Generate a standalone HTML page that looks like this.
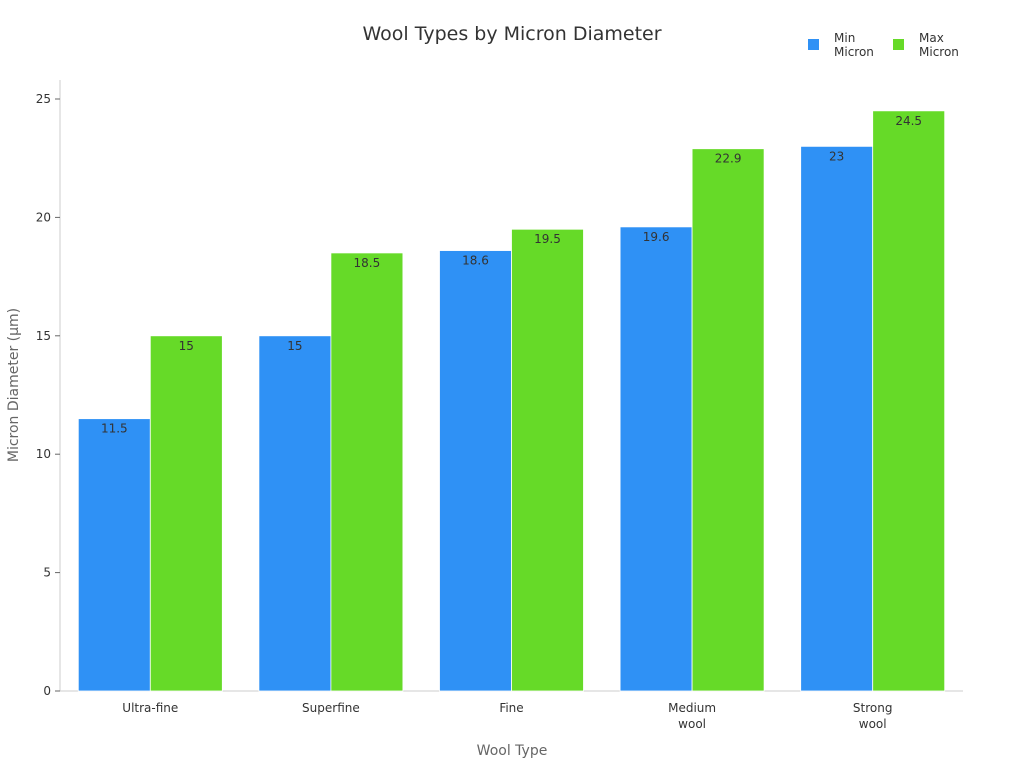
<!DOCTYPE html>
<html><head><meta charset="utf-8"><style>
body{margin:0;background:#fff;font-family:"Liberation Sans","DejaVu Sans",sans-serif;}
</style></head><body>
<svg id="c" width="1024" height="768" xmlns="http://www.w3.org/2000/svg" style="font-family:'DejaVu Sans','Liberation Sans',sans-serif">
<text x="512" y="40" text-anchor="middle" font-size="19" fill="#333">Wool Types by Micron Diameter</text>
<g>
<rect x="808" y="39" width="11" height="11" fill="#2f91f5"/>
<text x="834" y="42" font-size="12" fill="#333"><tspan x="834">Min</tspan><tspan x="834" dy="14">Micron</tspan></text>
<rect x="893" y="39" width="11" height="11" fill="#66da28"/>
<text x="919" y="42" font-size="12" fill="#333"><tspan x="919">Max</tspan><tspan x="919" dy="14">Micron</tspan></text>
</g>
<text transform="translate(18,385) rotate(-90)" text-anchor="middle" font-size="14" fill="#666">Micron Diameter (µm)</text>
<text x="512" y="755" text-anchor="middle" font-size="14" fill="#666">Wool Type</text>
<g id="plot"></g>
</svg>
<script>
const categories=[["Ultra-fine"],["Superfine"],["Fine"],["Medium","wool"],["Strong","wool"]];
const minMicron=[11.5,15,18.6,19.6,23];
const maxMicron=[15,18.5,19.5,22.9,24.5];
const yTicks=[0,5,10,15,20,25];
const NS="http://www.w3.org/2000/svg";
const g=document.getElementById('plot');
const x0=60,x1=963,yBase=691,yTop=99;
const y=v=>yBase-(v/25)*(yBase-yTop);
const bw=(x1-x0)/categories.length;
const cx=i=>x0+bw*(i+0.5);
function mk(t,a,txt){const e=document.createElementNS(NS,t);for(const k in a)e.setAttribute(k,a[k]);if(txt!==undefined)e.textContent=txt;g.appendChild(e);return e;}
let ax=mk('line',{x1:x0,y1:80,x2:x0,y2:yBase,stroke:'#ccc'});


let bx=mk('line',{x1:x0,y1:yBase,x2:x1,y2:yBase,stroke:'#ccc'});


yTicks.forEach(t=>{
 const l=mk('line',{x1:55,x2:60,y1:y(t),y2:y(t),stroke:'#666'});
 
 
 const tx=mk('text',{x:51,y:y(t)+4,'text-anchor':'end','font-size':12,fill:'#333'},t);
 
 
});
const W=72;
categories.forEach((c,i)=>{
 [[minMicron,'#2f91f5',-W,'min'],[maxMicron,'#66da28',0,'max']].forEach(([arr,col,off,nm])=>{
  const v=arr[i];
  const r=mk('rect',{x:cx(i)+off,y:y(v),width:W,height:yBase-y(v),fill:col,stroke:'#fff','stroke-width':0.8});
  
  
  const t=mk('text',{x:cx(i)+off+W/2,y:y(v)+14,'text-anchor':'middle','font-size':12,fill:'#333'},v);
  
  
 });
 const t=mk('text',{x:cx(i),y:712,'text-anchor':'middle','font-size':12,fill:'#333'});
 
 
 c.forEach((s,k)=>{const ts=document.createElementNS(NS,'tspan');ts.setAttribute('x',cx(i));if(k)ts.setAttribute('dy',16);ts.textContent=s;t.appendChild(ts);});
});
</script>
</body></html>
